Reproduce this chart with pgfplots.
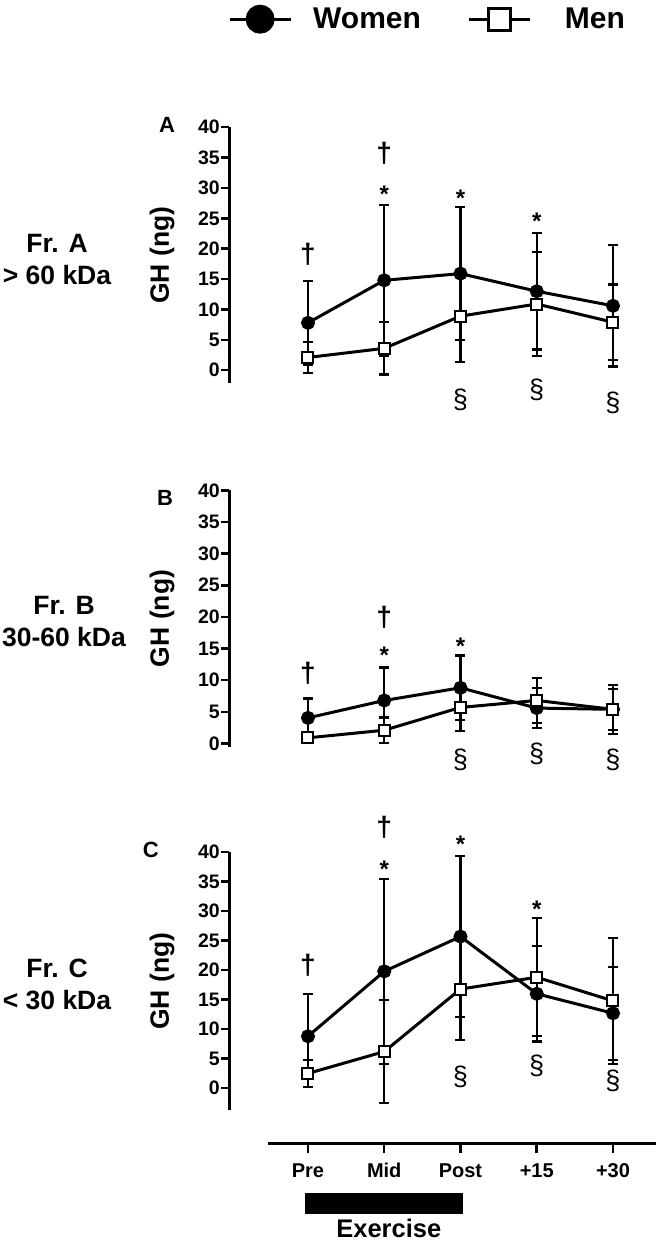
\documentclass[border=0pt]{standalone}
\usepackage{fontspec}
\setmainfont{Liberation Sans}
\usepackage{pgfplots}
\pgfplotsset{compat=1.18}

\pgfplotstableread{
x y e
0 7.8 6.9
1 14.8 12.4
2 15.9 10.9
3 13.0 9.6
4 10.6 10.0
}\womenA
\pgfplotstableread{
x y e
0 2.1 2.5
1 3.6 4.3
2 8.9 7.5
3 10.9 8.5
4 7.9 6.2
}\menA
\pgfplotstableread{
x y e
0 4.05 3.05
1 6.8 5.2
2 8.8 5.1
3 5.6 3.2
4 5.4 3.9
}\womenB
\pgfplotstableread{
x y e
0 0.9 0.8
1 2.1 2.0
2 5.7 3.7
3 6.8 3.5
4 5.4 3.2
}\menB
\pgfplotstableread{
x y e
0 8.8 7.2
1 19.8 15.7
2 25.7 13.7
3 16.0 8.1
4 12.7 7.9
}\womenC
\pgfplotstableread{
x y e
0 2.5 2.3
1 6.2 8.7
2 16.8 8.7
3 18.8 10.0
4 14.8 10.7
}\menC

\tikzset{
  ann/.style={font=\fontsize{28}{28}\selectfont\bfseries, inner sep=0pt},
  sec/.style={font=\fontsize{27}{27}\selectfont, inner sep=0pt},
  star/.style={font=\fontsize{24}{24}\selectfont\bfseries, inner sep=0pt, yshift=-5pt},
  plet/.style={font=\fontsize{22}{22}\selectfont\bfseries},
}
\pgfplotsset{
  panel/.style={
    scale only axis, clip=false,
    width=427pt,
    xmin=-1.036, xmax=4.564,
    axis x line=none,
    axis y line=left,
    axis line style={-, line width=3pt},
    ytick={0,5,...,40},
    ytick align=outside,
    major tick length=8pt,
    tick style={line width=2.5pt, black},
    yticklabel style={font=\fontsize{19.5}{19.5}\selectfont\bfseries, inner sep=1pt},
    /pgf/number format/assume math mode=true,
    ylabel={GH (ng)},
    every axis y label/.style={at={(axis description cs:-0.157,0.5)}, rotate=90, anchor=center, font=\fontsize{26.5}{26.5}\selectfont\bfseries},
  },
  women/.style={black, line width=3pt, mark=*, mark size=5.5pt, mark options={solid, fill=black},
     error bars/.cd, y dir=both, y explicit, error mark=-,
     error bar style={line width=2.2pt, black},
     error mark options={rotate=90, line width=2.2pt, mark size=5pt, black}},
  men/.style={black, line width=3pt, mark=square*, mark size=5.5pt, mark options={solid, fill=white, line width=2pt},
     error bars/.cd, y dir=both, y explicit, error mark=-,
     error bar style={line width=2.2pt, black},
     error mark options={rotate=90, line width=2.2pt, mark size=5pt, black}},
  legimg/.style={legend image code/.code={\draw[mark repeat=2,mark phase=2,##1] plot coordinates {(0pt,0pt) (30.5pt,0pt) (61pt,0pt)};}},
}

\begin{document}
\begin{tikzpicture}
\path[use as bounding box] (0,0) rectangle (656pt,1240pt);

% Left labels
\node[font=\fontsize{26.5}{26.5}\selectfont\bfseries] at (57pt,997pt) {Fr. A};
\node[font=\fontsize{26.5}{26.5}\selectfont\bfseries] at (57pt,965pt) {> 60 kDa};
\node[font=\fontsize{26.5}{26.5}\selectfont\bfseries] at (64pt,635pt) {Fr. B};
\node[font=\fontsize{26.5}{26.5}\selectfont\bfseries] at (64pt,603pt) {30-60 kDa};
\node[font=\fontsize{26.5}{26.5}\selectfont\bfseries] at (57pt,272pt) {Fr. C};
\node[font=\fontsize{26.5}{26.5}\selectfont\bfseries] at (57pt,240pt) {< 30 kDa};

% Panel A
\begin{axis}[panel, at={(229pt,857pt)}, anchor=south west, height=255.8pt, ymin=-2.1, ymax=40,
  legend columns=2,
  legend style={draw=none, fill=none, inner sep=0pt, outer sep=0pt,
    at={(axis description cs:-0.002,1.473)}, anchor=north west,
    font=\fontsize{30}{30}\selectfont\bfseries,
    nodes={inner sep=0pt},
    /tikz/every odd column/.append style={column sep=21pt},
    /tikz/every even column/.append style={column sep=47pt}}]
\addlegendimage{legimg, black, line width=3pt, mark=*, mark size=13pt, mark options={solid, fill=black}}
\addlegendentry{Women}
\addlegendimage{legimg, black, line width=3pt, mark=square*, mark size=11pt, mark options={solid, fill=white, line width=3pt}}
\addlegendentry{\hspace{12pt}Men}
\addplot[women] table[x=x, y=y, y error=e] {\womenA};
\addplot[men] table[x=x, y=y, y error=e] {\menA};
\node[plet] at (rel axis cs:-0.145,1.008) {A};
\node[ann] at (axis cs:0,19.0) {†};
\node[ann] at (axis cs:1,35.7) {†};
\node[star] at (axis cs:1,29.8) {*};
\node[star] at (axis cs:2,29.1) {*};
\node[star] at (axis cs:3,25.3) {*};
\node[sec] at (axis cs:2,-4.9) {§};
\node[sec] at (axis cs:3,-3.3) {§};
\node[sec] at (axis cs:4,-5.4) {§};
\end{axis}

% Panel B
\begin{axis}[panel, at={(229pt,493.3pt)}, anchor=south west, height=256.4pt, ymin=-0.5, ymax=40]
\addplot[women] table[x=x, y=y, y error=e] {\womenB};
\addplot[men] table[x=x, y=y, y error=e] {\menB};
\node[plet] at (rel axis cs:-0.150,0.970) {B};
\node[ann] at (axis cs:0,11.05) {†};
\node[ann] at (axis cs:1,20.0) {†};
\node[star] at (axis cs:1,14.7) {*};
\node[star] at (axis cs:2,16.1) {*};
\node[sec] at (axis cs:2,-2.6) {§};
\node[sec] at (axis cs:3,-1.7) {§};
\node[sec] at (axis cs:4,-2.6) {§};
\end{axis}

% Panel C
\begin{axis}[panel, at={(229pt,130pt)}, anchor=south west, height=257.8pt, ymin=-3.7, ymax=40]
\addplot[women] table[x=x, y=y, y error=e] {\womenC};
\addplot[men] table[x=x, y=y, y error=e] {\menC};
\node[plet] at (rel axis cs:-0.183,1.009) {C};
\node[ann] at (axis cs:0,20.9) {†};
\node[ann] at (axis cs:1,44.3) {†};
\node[star] at (axis cs:1,37.9) {*};
\node[star] at (axis cs:2,42.2) {*};
\node[star] at (axis cs:3,31.2) {*};
\node[sec] at (axis cs:2,1.9) {§};
\node[sec] at (axis cs:3,3.7) {§};
\node[sec] at (axis cs:4,1.3) {§};
\end{axis}

% Bottom time axis
\begin{axis}[scale only axis, clip=false, width=387.7pt, height=10pt,
  xmin=-0.52, xmax=4.564, ymin=0, ymax=1,
  at={(268.3pt,96pt)}, anchor=south west,
  axis y line=none, axis x line=bottom,
  axis line style={-, line width=3pt},
  xtick={0,1,2,3,4}, xticklabels={Pre,Mid,Post,+15,+30},
  xtick align=outside, major tick length=9pt,
  tick style={line width=2.5pt, black},
  xticklabel style={font=\fontsize{20}{20}\selectfont\bfseries, text height=14.5pt, text depth=0pt, anchor=north, yshift=-6pt}]
\addplot[fill=black, draw=none] coordinates {(-0.04,-4.9) (2.03,-4.9) (2.03,-7.0) (-0.04,-7.0)} --cycle;
\node[font=\fontsize{25.5}{25.5}\selectfont\bfseries] at (axis cs:1.06,-8.4) {Exercise};
\end{axis}
\end{tikzpicture}
\end{document}
